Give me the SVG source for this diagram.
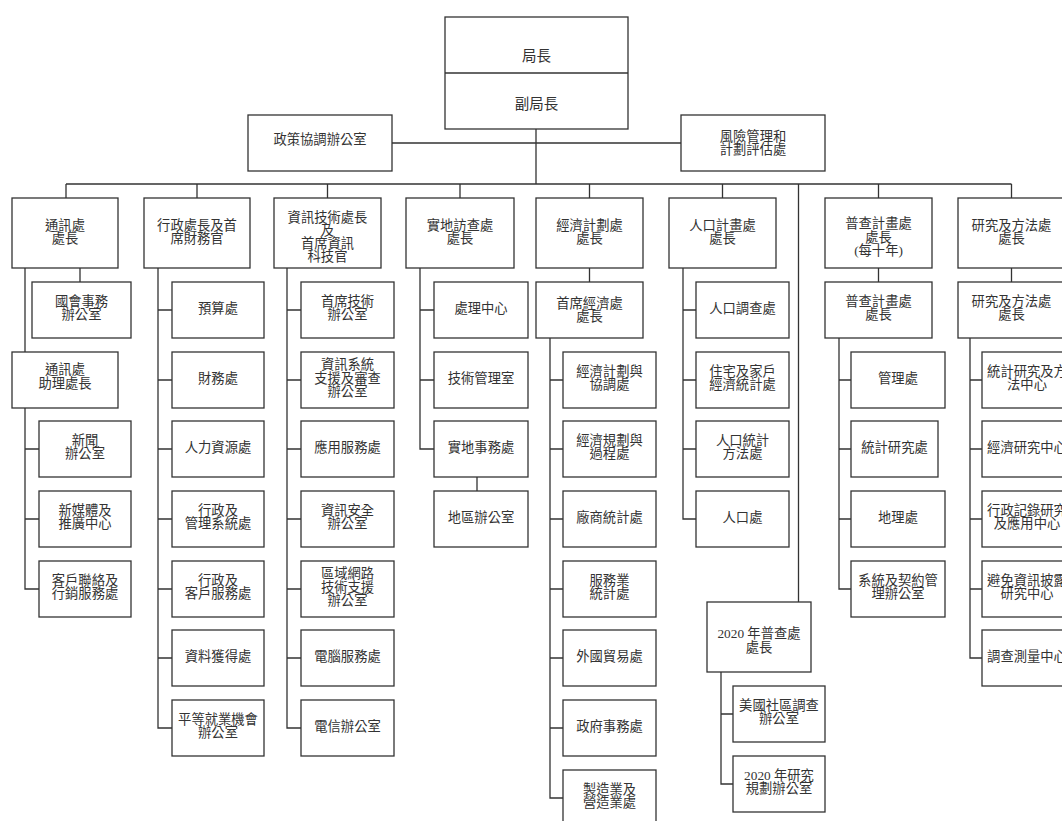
<svg xmlns="http://www.w3.org/2000/svg" width="1062" height="821" viewBox="0 0 1062 821">
<style>
.b{fill:#fff;stroke:#333;stroke-width:1.3}
.c{fill:none;stroke:#333;stroke-width:1.3}
.t{font-family:"Liberation Serif","Noto Sans CJK TC",serif;font-size:13.3px;fill:#333;text-anchor:middle}
.tl{font-size:14.5px}
</style>
<rect width="1062" height="821" fill="#fff"/>
<g id="connectors" class="c">
<path d="M536,129V184M392,143H681M66,184H1011.5"/>
<path d="M66,184V198M197,184V198M327.5,184V198M460,184V198M589.5,184V198M722.5,184V198M878.5,184V198M1011.5,184V198M798.5,184V602"/>
<path d="M25,268V352M25,408V589H39M25,449H39M25,519H39M80,268V282"/>
<path d="M158,268V728H172M158,310H172M158,380H172M158,449H172M158,519H172M158,589H172M158,658H172"/>
<path d="M287,268V728H301M287,310H301M287,380H301M287,449H301M287,519H301M287,589H301M287,658H301"/>
<path d="M420,268V449H434M420,310H434M420,380H434M477,477V491"/>
<path d="M589.5,268V282M550,338V798H563M550,380H563M550,449H563M550,519H563M550,589H563M550,658H563M550,728H563"/>
<path d="M683,268V519H696M683,310H696M683,380H696M683,449H696"/>
<path d="M878.5,268V282M839,338V589H851M839,380H851M839,449H851M839,519H851"/>
<path d="M721,672V784H733M721,714H733"/>
<path d="M1011.5,268V282M970,338V658H982M970,380H982M970,449H982M970,519H982M970,589H982"/>
</g>
<g id="director">
<rect class="b" x="445" y="17" width="183" height="112"/>
<line class="c" x1="445" y1="73" x2="628" y2="73"/>
<text class="t tl" x="536.5" y="60.5">局長</text>
<text class="t tl" x="536.5" y="108.5">副局長</text>
</g>
<g id="policy"><rect class="b" x="248" y="115" width="144" height="56"/><text class="t" x="320" y="144">政策協調辦公室</text></g>
<g id="risk"><rect class="b" x="681" y="115" width="144" height="56"/><text class="t"><tspan x="753" y="140.5">風險管理和</tspan><tspan x="753" y="154">計劃評估處</tspan></text></g>

<g id="comm"><rect class="b" x="12" y="198" width="106" height="70"/><text class="t"><tspan x="65" y="229.5">通訊處</tspan><tspan x="65" y="243">處長</tspan></text></g>
<g id="comm-congress"><rect class="b" x="32" y="282" width="99" height="56"/><text class="t"><tspan x="81.5" y="305.75">國會事務</tspan><tspan x="81.5" y="319.25">辦公室</tspan></text></g>
<g id="comm-asst"><rect class="b" x="12" y="352" width="106" height="56"/><text class="t"><tspan x="65" y="373.5">通訊處</tspan><tspan x="65" y="388">助理處長</tspan></text></g>
<g id="comm-news"><rect class="b" x="39" y="421" width="92" height="56"/><text class="t"><tspan x="85" y="444.75">新聞</tspan><tspan x="85" y="458.25">辦公室</tspan></text></g>
<g id="comm-media"><rect class="b" x="39" y="491" width="92" height="56"/><text class="t"><tspan x="85" y="514.75">新媒體及</tspan><tspan x="85" y="528.25">推廣中心</tspan></text></g>
<g id="comm-cust"><rect class="b" x="39" y="561" width="92" height="56"/><text class="t"><tspan x="85" y="584.75">客戶聯絡及</tspan><tspan x="85" y="598.25">行銷服務處</tspan></text></g>

<g id="admin"><rect class="b" x="144" y="198" width="106" height="70"/><text class="t"><tspan x="197" y="229.5">行政處長及首</tspan><tspan x="197" y="243">席財務官</tspan></text></g>
<g id="admin-1"><rect class="b" x="172" y="282" width="92" height="56"/><text class="t" x="218" y="312.5">預算處</text></g>
<g id="admin-2"><rect class="b" x="172" y="352" width="92" height="56"/><text class="t" x="218" y="382.5">財務處</text></g>
<g id="admin-3"><rect class="b" x="172" y="421" width="92" height="56"/><text class="t" x="218" y="451.5">人力資源處</text></g>
<g id="admin-4"><rect class="b" x="172" y="491" width="92" height="56"/><text class="t"><tspan x="218" y="514.75">行政及</tspan><tspan x="218" y="528.25">管理系統處</tspan></text></g>
<g id="admin-5"><rect class="b" x="172" y="561" width="92" height="56"/><text class="t"><tspan x="218" y="584.75">行政及</tspan><tspan x="218" y="598.25">客戶服務處</tspan></text></g>
<g id="admin-6"><rect class="b" x="172" y="630" width="92" height="56"/><text class="t" x="218" y="660.5">資料獲得處</text></g>
<g id="admin-7"><rect class="b" x="172" y="700" width="92" height="56"/><text class="t"><tspan x="218" y="723.75">平等就業機會</tspan><tspan x="218" y="737.25">辦公室</tspan></text></g>

<g id="it"><rect class="b" x="274" y="198" width="107" height="70"/><text class="t"><tspan x="327.5" y="221.5">資訊技術處長</tspan><tspan x="327.5" y="234.7">及</tspan><tspan x="327.5" y="247.9">首席資訊</tspan><tspan x="327.5" y="261.1">科技官</tspan></text></g>
<g id="it-1"><rect class="b" x="301" y="282" width="93" height="56"/><text class="t"><tspan x="347.5" y="305.75">首席技術</tspan><tspan x="347.5" y="319.25">辦公室</tspan></text></g>
<g id="it-2"><rect class="b" x="301" y="352" width="93" height="56"/><text class="t"><tspan x="347.5" y="369">資訊系統</tspan><tspan x="347.5" y="382.5">支援及審查</tspan><tspan x="347.5" y="396">辦公室</tspan></text></g>
<g id="it-3"><rect class="b" x="301" y="421" width="93" height="56"/><text class="t" x="347.5" y="451.5">應用服務處</text></g>
<g id="it-4"><rect class="b" x="301" y="491" width="93" height="56"/><text class="t"><tspan x="347.5" y="514.75">資訊安全</tspan><tspan x="347.5" y="528.25">辦公室</tspan></text></g>
<g id="it-5"><rect class="b" x="301" y="561" width="93" height="56"/><text class="t"><tspan x="347.5" y="578">區域網路</tspan><tspan x="347.5" y="591.5">技術支援</tspan><tspan x="347.5" y="605">辦公室</tspan></text></g>
<g id="it-6"><rect class="b" x="301" y="630" width="93" height="56"/><text class="t" x="347.5" y="660.5">電腦服務處</text></g>
<g id="it-7"><rect class="b" x="301" y="700" width="93" height="56"/><text class="t" x="347.5" y="730.5">電信辦公室</text></g>

<g id="field"><rect class="b" x="406" y="198" width="108" height="70"/><text class="t"><tspan x="460" y="229.5">實地訪查處</tspan><tspan x="460" y="243">處長</tspan></text></g>
<g id="field-1"><rect class="b" x="434" y="282" width="94" height="56"/><text class="t" x="481" y="312.5">處理中心</text></g>
<g id="field-2"><rect class="b" x="434" y="352" width="94" height="56"/><text class="t" x="481" y="382.5">技術管理室</text></g>
<g id="field-3"><rect class="b" x="434" y="421" width="94" height="56"/><text class="t" x="481" y="451.5">實地事務處</text></g>
<g id="field-4"><rect class="b" x="434" y="491" width="94" height="56"/><text class="t" x="481" y="521.5">地區辦公室</text></g>

<g id="econ"><rect class="b" x="536" y="198" width="107" height="70"/><text class="t"><tspan x="589.5" y="229.5">經濟計劃處</tspan><tspan x="589.5" y="243">處長</tspan></text></g>
<g id="econ-chief"><rect class="b" x="536" y="282" width="107" height="56"/><text class="t"><tspan x="589.5" y="307.5">首席經濟處</tspan><tspan x="589.5" y="321">處長</tspan></text></g>
<g id="econ-1"><rect class="b" x="563" y="352" width="93" height="56"/><text class="t"><tspan x="609.5" y="375.75">經濟計劃與</tspan><tspan x="609.5" y="389.25">協調處</tspan></text></g>
<g id="econ-2"><rect class="b" x="563" y="421" width="93" height="56"/><text class="t"><tspan x="609.5" y="444.75">經濟規劃與</tspan><tspan x="609.5" y="458.25">過程處</tspan></text></g>
<g id="econ-3"><rect class="b" x="563" y="491" width="93" height="56"/><text class="t" x="609.5" y="521.5">廠商統計處</text></g>
<g id="econ-4"><rect class="b" x="563" y="561" width="93" height="56"/><text class="t"><tspan x="609.5" y="584.75">服務業</tspan><tspan x="609.5" y="598.25">統計處</tspan></text></g>
<g id="econ-5"><rect class="b" x="563" y="630" width="93" height="56"/><text class="t" x="609.5" y="660.5">外國貿易處</text></g>
<g id="econ-6"><rect class="b" x="563" y="700" width="93" height="56"/><text class="t" x="609.5" y="730.5">政府事務處</text></g>
<g id="econ-7"><rect class="b" x="563" y="770" width="93" height="56"/><text class="t"><tspan x="609.5" y="793.75">製造業及</tspan><tspan x="609.5" y="807.25">營造業處</tspan></text></g>

<g id="pop"><rect class="b" x="669" y="198" width="107" height="70"/><text class="t"><tspan x="722.5" y="229.5">人口計畫處</tspan><tspan x="722.5" y="243">處長</tspan></text></g>
<g id="pop-1"><rect class="b" x="696" y="282" width="93" height="56"/><text class="t" x="742.5" y="312.5">人口調查處</text></g>
<g id="pop-2"><rect class="b" x="696" y="352" width="93" height="56"/><text class="t"><tspan x="742.5" y="375.75">住宅及家戶</tspan><tspan x="742.5" y="389.25">經濟統計處</tspan></text></g>
<g id="pop-3"><rect class="b" x="696" y="421" width="93" height="56"/><text class="t"><tspan x="742.5" y="444.75">人口統計</tspan><tspan x="742.5" y="458.25">方法處</tspan></text></g>
<g id="pop-4"><rect class="b" x="696" y="491" width="93" height="56"/><text class="t" x="742.5" y="521.5">人口處</text></g>

<g id="census2020"><rect class="b" x="707" y="602" width="104" height="70"/><text class="t"><tspan x="759" y="638">2020 年普查處</tspan><tspan x="759" y="651.5">處長</tspan></text></g>
<g id="census2020-1"><rect class="b" x="733" y="686" width="92" height="56"/><text class="t"><tspan x="779" y="709.75">美國社區調查</tspan><tspan x="779" y="723.25">辦公室</tspan></text></g>
<g id="census2020-2"><rect class="b" x="733" y="756" width="92" height="56"/><text class="t"><tspan x="779" y="779.75">2020 年研究</tspan><tspan x="779" y="793.25">規劃辦公室</tspan></text></g>

<g id="decennial"><rect class="b" x="825" y="198" width="107" height="70"/><text class="t"><tspan x="878.5" y="228">普查計畫處</tspan><tspan x="878.5" y="241.5">處長</tspan><tspan x="878.5" y="255">(每十年)</tspan></text></g>
<g id="decennial-chief"><rect class="b" x="825" y="282" width="107" height="56"/><text class="t"><tspan x="878.5" y="305.75">普查計畫處</tspan><tspan x="878.5" y="319.25">處長</tspan></text></g>
<g id="decennial-1"><rect class="b" x="851" y="352" width="94" height="56"/><text class="t" x="898" y="382.5">管理處</text></g>
<g id="decennial-2"><rect class="b" x="851" y="421" width="87" height="56"/><text class="t" x="894.5" y="451.5">統計研究處</text></g>
<g id="decennial-3"><rect class="b" x="851" y="491" width="94" height="56"/><text class="t" x="898" y="521.5">地理處</text></g>
<g id="decennial-4"><rect class="b" x="851" y="561" width="94" height="56"/><text class="t"><tspan x="898" y="584.75">系統及契約管</tspan><tspan x="898" y="598.25">理辦公室</tspan></text></g>

<g id="research"><rect class="b" x="958" y="198" width="107" height="70"/><text class="t"><tspan x="1011.5" y="229.5">研究及方法處</tspan><tspan x="1011.5" y="243">處長</tspan></text></g>
<g id="research-chief"><rect class="b" x="958" y="282" width="107" height="56"/><text class="t"><tspan x="1011.5" y="305.75">研究及方法處</tspan><tspan x="1011.5" y="319.25">處長</tspan></text></g>
<g id="research-1"><rect class="b" x="982" y="352" width="90" height="56"/><text class="t"><tspan x="1027" y="375.75">統計研究及方</tspan><tspan x="1027" y="389.25">法中心</tspan></text></g>
<g id="research-2"><rect class="b" x="982" y="421" width="90" height="56"/><text class="t" x="1027" y="451.5">經濟研究中心</text></g>
<g id="research-3"><rect class="b" x="982" y="491" width="90" height="56"/><text class="t"><tspan x="1027" y="514.75">行政記錄研究</tspan><tspan x="1027" y="528.25">及應用中心</tspan></text></g>
<g id="research-4"><rect class="b" x="982" y="561" width="90" height="56"/><text class="t"><tspan x="1027" y="584.75">避免資訊披露</tspan><tspan x="1027" y="598.25">研究中心</tspan></text></g>
<g id="research-5"><rect class="b" x="982" y="630" width="90" height="56"/><text class="t" x="1027" y="660.5">調查測量中心</text></g>
</svg>
